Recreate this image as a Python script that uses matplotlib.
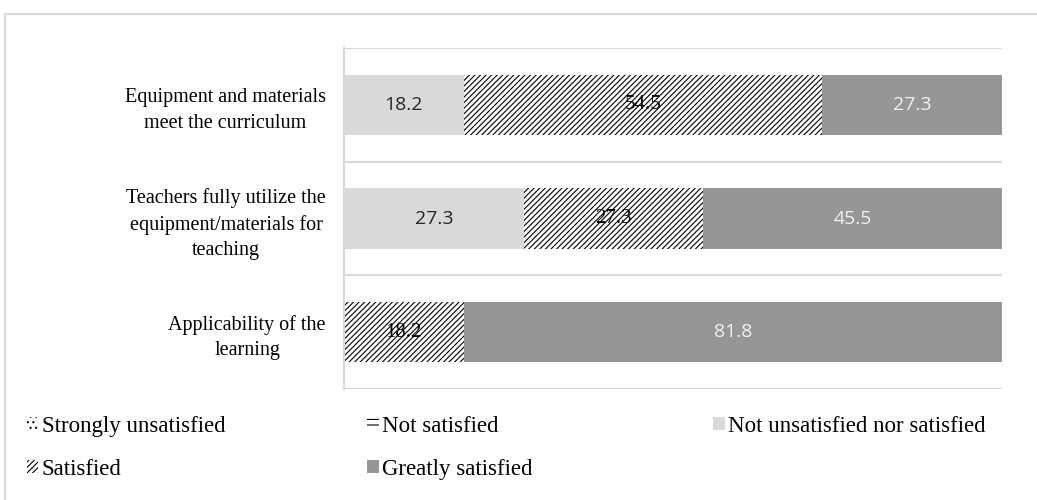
import matplotlib.pyplot as plt
from matplotlib.patches import Patch, Rectangle

plt.rcParams['hatch.linewidth'] = 0.8

# Data
categories = [
    'Equipment and materials\nmeet the curriculum',
    'Teachers fully utilize the\nequipment/materials for\nteaching',
    'Applicability of the\nlearning',
]
strongly_unsatisfied = [0, 0, 0]
not_satisfied = [0, 0, 0]
neutral = [18.2, 27.3, 0]
satisfied = [54.5, 27.3, 18.2]
greatly_satisfied = [27.3, 45.5, 81.8]

series = [
    ('Strongly unsatisfied', strongly_unsatisfied, dict(facecolor='white', hatch='...', edgecolor='black')),
    ('Not satisfied', not_satisfied, dict(facecolor='white', hatch='---', edgecolor='black')),
    ('Not unsatisfied nor satisfied', neutral, dict(facecolor='#d9d9d9')),
    ('Satisfied', satisfied, dict(facecolor='white', hatch='//////', edgecolor='black')),
    ('Greatly satisfied', greatly_satisfied, dict(facecolor='#969696')),
]
label_style = {
    'Not unsatisfied nor satisfied': dict(color='#262626', family='Open Sans'),
    'Satisfied': dict(color='black', family='Liberation Serif', fontsize=15),
    'Greatly satisfied': dict(color='#f2f2f2', family='Open Sans'),
}

fig = plt.figure(figsize=(10.37, 5), dpi=100)
ax = fig.add_axes([0.3317, 0.222, 0.6346, 0.682])

# outer chart frame
fig.patches.append(Rectangle((0.005, -0.1), 1.2, 1.072, transform=fig.transFigure,
                             fill=False, edgecolor='#d9d9d9', linewidth=1.5))

ypos = list(range(len(categories)))
left = [0.0] * len(categories)
handles = {}
for name, values, style in series:
    ax.barh(ypos, values, left=left, height=0.53, linewidth=0, **style)
    handles[name] = Patch(label=name, linewidth=0, **style)
    for y, v, l in zip(ypos, values, left):
        if v > 0:
            kw = dict(fontsize=14)
            kw.update(label_style[name])
            ax.text(l + v / 2, y, f'{v:.1f}', ha='center', va='center', **kw)
    left = [a + b for a, b in zip(left, values)]

ax.set_xlim(0, 100)
ax.set_ylim(2.5, -0.5)
ax.set_yticks(ypos)
ax.set_yticklabels(categories, fontsize=14.5, family='Liberation Serif',
                   ma='center', linespacing=1.45)
ax.tick_params(axis='y', length=0, pad=13)
ax.set_xticks([])
for s in ['top', 'right', 'bottom']:
    ax.spines[s].set_visible(False)
ax.spines['left'].set_color('#d9d9d9')
ax.spines['left'].set_linewidth(1.5)
for b in [-0.5, 0.5, 1.5, 2.5]:
    ax.axhline(b, color='#d9d9d9', linewidth=1.5, zorder=0)

# legend, one block per column
columns = [
    (['Strongly unsatisfied', 'Satisfied'], 0.026),
    (['Not satisfied', 'Greatly satisfied'], 0.354),
    (['Not unsatisfied nor satisfied'], 0.688),
]
for names, x in columns:
    fig.legend(handles=[handles[n] for n in names], loc='upper left',
               bbox_to_anchor=(x, 0.168), frameon=False,
               prop={'family': 'Liberation Serif', 'size': 16.5},
               handlelength=0.5, handleheight=0.5, handletextpad=0.15,
               labelspacing=0.95, borderaxespad=0, borderpad=0)

fig.savefig('out.png', dpi=100)
